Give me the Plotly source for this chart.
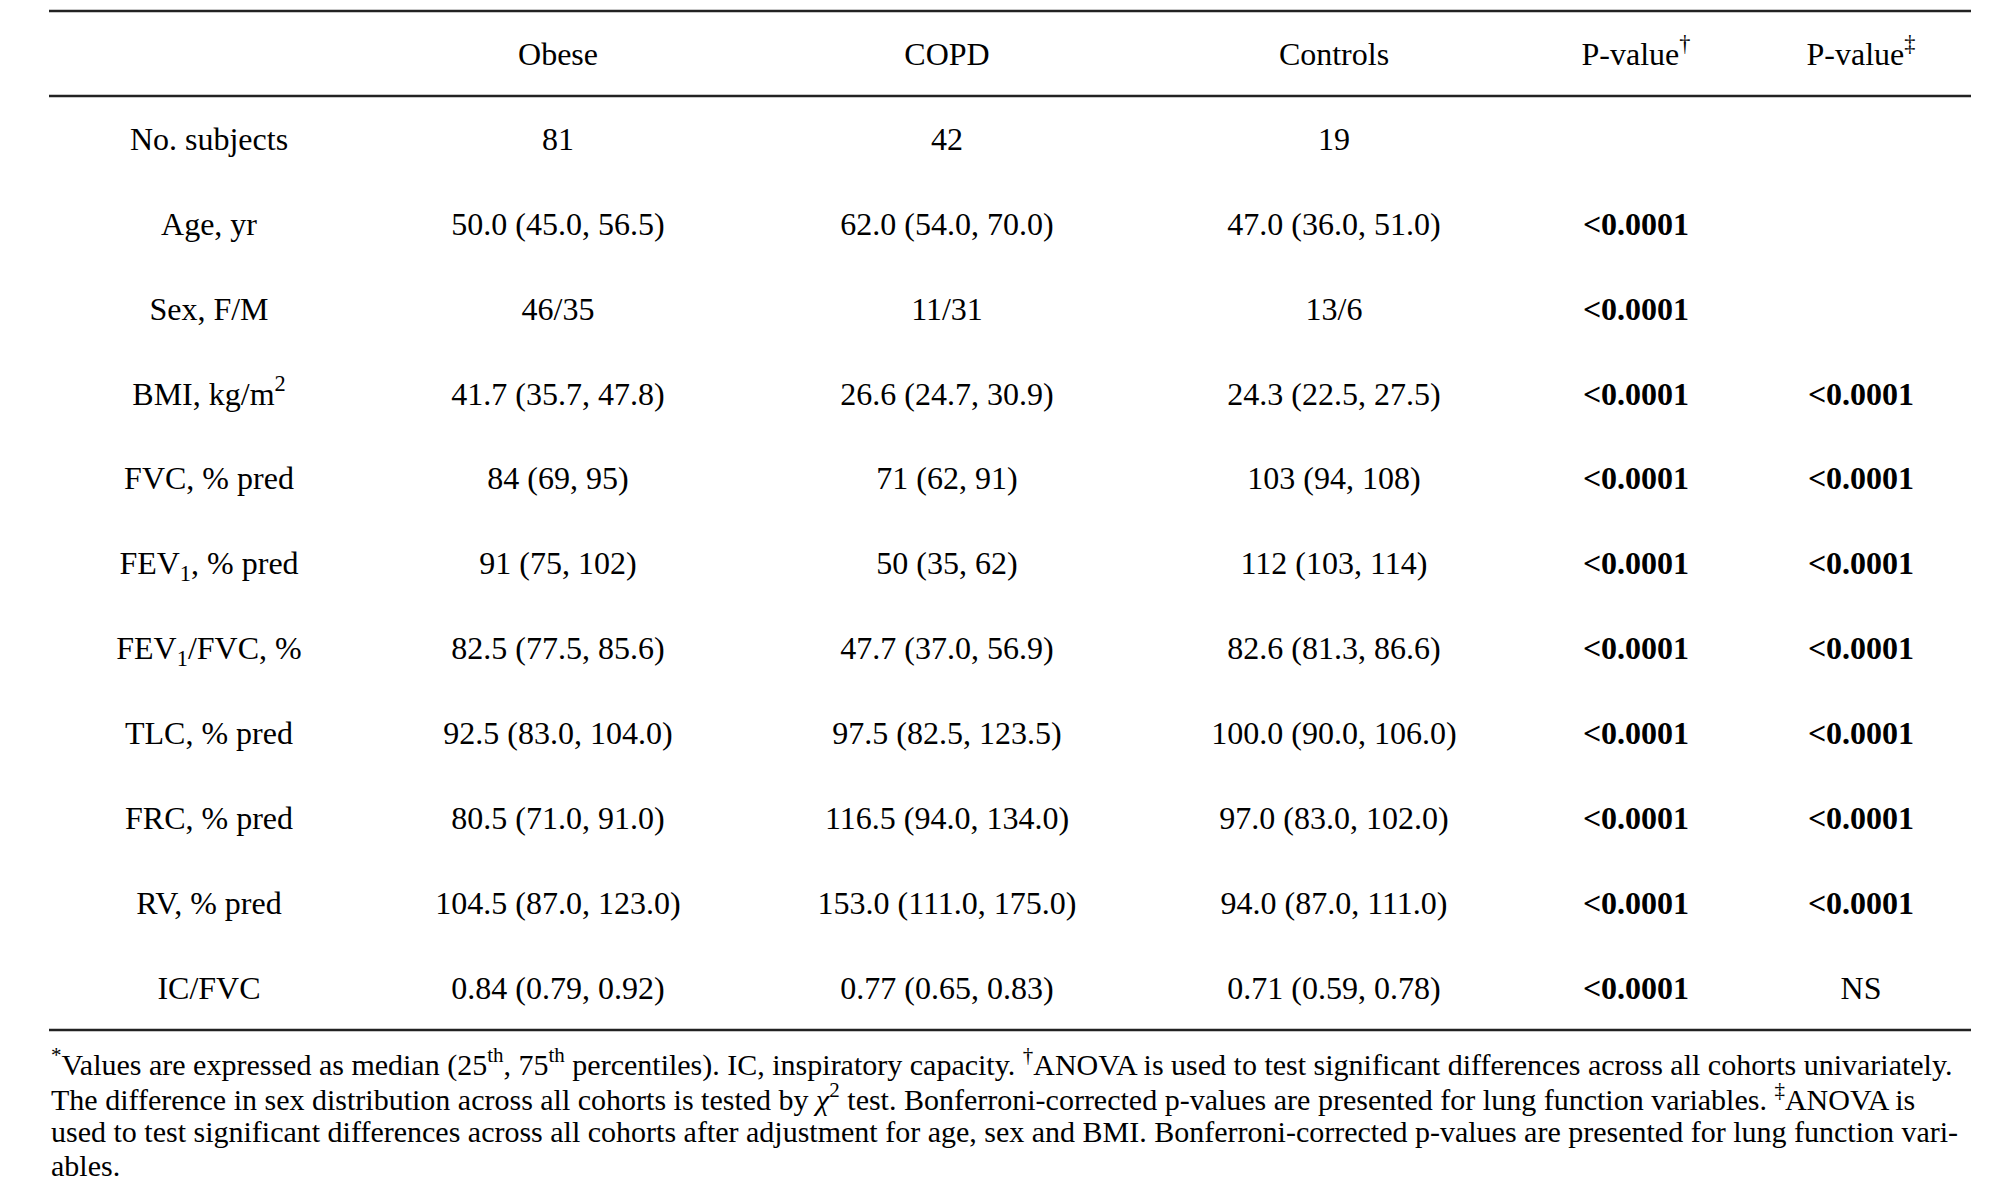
import plotly.graph_objects as go

# table content
HEADERS = ["", "Obese", "COPD", "Controls", "P-value<sup>†</sup>", "P-value<sup>‡</sup>"]
ROW_LABELS = [
    "No. subjects",
    "Age, yr",
    "Sex, F/M",
    "BMI, kg/m<sup>2</sup>",
    "FVC, % pred",
    "FEV<sub>1</sub>, % pred",
    "FEV<sub>1</sub>/FVC, %",
    "TLC, % pred",
    "FRC, % pred",
    "RV, % pred",
    "IC/FVC",
]
OBESE = [
    "81", "50.0 (45.0, 56.5)", "46/35", "41.7 (35.7, 47.8)", "84 (69, 95)",
    "91 (75, 102)", "82.5 (77.5, 85.6)", "92.5 (83.0, 104.0)", "80.5 (71.0, 91.0)",
    "104.5 (87.0, 123.0)", "0.84 (0.79, 0.92)",
]
COPD = [
    "42", "62.0 (54.0, 70.0)", "11/31", "26.6 (24.7, 30.9)", "71 (62, 91)",
    "50 (35, 62)", "47.7 (37.0, 56.9)", "97.5 (82.5, 123.5)", "116.5 (94.0, 134.0)",
    "153.0 (111.0, 175.0)", "0.77 (0.65, 0.83)",
]
CONTROLS = [
    "19", "47.0 (36.0, 51.0)", "13/6", "24.3 (22.5, 27.5)", "103 (94, 108)",
    "112 (103, 114)", "82.6 (81.3, 86.6)", "100.0 (90.0, 106.0)", "97.0 (83.0, 102.0)",
    "94.0 (87.0, 111.0)", "0.71 (0.59, 0.78)",
]
P_UNIVARIATE = ["", "<0.0001", "<0.0001", "<0.0001", "<0.0001", "<0.0001",
                "<0.0001", "<0.0001", "<0.0001", "<0.0001", "<0.0001"]
P_ADJUSTED = ["", "", "", "<0.0001", "<0.0001", "<0.0001",
              "<0.0001", "<0.0001", "<0.0001", "<0.0001", "NS"]

FOOTNOTE = [
    "<sup>*</sup>Values are expressed as median (25<sup>th</sup>, 75<sup>th</sup> percentiles). "
    "IC, inspiratory capacity. <sup>†</sup>ANOVA is used to test significant differences across all cohorts univariately.",
    "The difference in sex distribution across all cohorts is tested by <i>χ</i><sup>2</sup> test. "
    "Bonferroni-corrected p-values are presented for lung function variables. <sup>‡</sup>ANOVA is",
    "used to test significant differences across all cohorts after adjustment for age, sex and BMI. "
    "Bonferroni-corrected p-values are presented for lung function vari-",
    "ables.",
]

# layout / style (pixels)
WIDTH, HEIGHT = 2004, 1195
TOP = 3
PLOT_H = 1019
TABLE_LEFT = 41
COL_WIDTHS = [320, 378, 400, 374, 230, 220]
FONT = "Liberation Serif, Times New Roman, serif"
TEXT_SIZE = 32
TEXT_SHIFT = 0.04  # nudges cell text slightly below the row centre
NOTE_SIZE = 30
NOTE_FIRST_Y = 1054
NOTE_STEP = 34.5
RULE_COLOR = "#222222"


def fmt_p(value):
    # p-values below threshold are printed in bold
    if value.startswith("<"):
        return "<b>&lt;" + value[1:] + "</b>"
    return value


def px_to_paper(py):
    return 1 - (py - TOP) / PLOT_H


col_x = []
edge = TABLE_LEFT
for w in COL_WIDTHS:
    col_x.append(edge + w / 2)
    edge += w
table_right = edge

columns = [
    ROW_LABELS,
    OBESE,
    COPD,
    CONTROLS,
    [fmt_p(v) for v in P_UNIVARIATE],
    [fmt_p(v) for v in P_ADJUSTED],
]

fig = go.Figure()

# header row
fig.add_trace(
    go.Scatter(
        x=col_x,
        y=["header"] * len(HEADERS),
        mode="text",
        text=HEADERS,
        textposition="middle center",
        textfont=dict(family=FONT, size=TEXT_SIZE, color="#000000"),
        hoverinfo="skip",
        showlegend=False,
    )
)

# body columns
for x, values in zip(col_x, columns):
    fig.add_trace(
        go.Scatter(
            x=[x] * len(ROW_LABELS),
            y=ROW_LABELS,
            mode="text",
            text=values,
            textposition="middle center",
            textfont=dict(family=FONT, size=TEXT_SIZE, color="#000000"),
            hoverinfo="skip",
            showlegend=False,
        )
    )

# horizontal rules: top, under header, bottom
n_rows = len(ROW_LABELS) + 1
for y in [1, 1 - 1 / n_rows, 0]:
    fig.add_shape(
        type="line",
        xref="x",
        yref="paper",
        x0=TABLE_LEFT,
        x1=table_right,
        y0=y,
        y1=y,
        line=dict(color=RULE_COLOR, width=2.5),
    )

# footnote, one annotation per line
for i, line in enumerate(FOOTNOTE):
    fig.add_annotation(
        text=line,
        xref="x",
        yref="paper",
        x=TABLE_LEFT,
        y=px_to_paper(NOTE_FIRST_Y + i * NOTE_STEP),
        xanchor="left",
        yanchor="middle",
        align="left",
        showarrow=False,
        font=dict(family=FONT, size=NOTE_SIZE, color="#000000"),
    )

fig.update_layout(
    width=WIDTH,
    height=HEIGHT,
    margin=dict(l=0, r=0, t=TOP, b=HEIGHT - TOP - PLOT_H),
    paper_bgcolor="white",
    plot_bgcolor="white",
    xaxis=dict(range=[0, WIDTH], visible=False, fixedrange=True),
    yaxis=dict(
        type="category",
        categoryarray=["header"] + ROW_LABELS,
        range=[n_rows - 0.5 - TEXT_SHIFT, -0.5 - TEXT_SHIFT],
        visible=False,
        fixedrange=True,
    ),
)

fig.write_html("out.html", config={"displayModeBar": False})
